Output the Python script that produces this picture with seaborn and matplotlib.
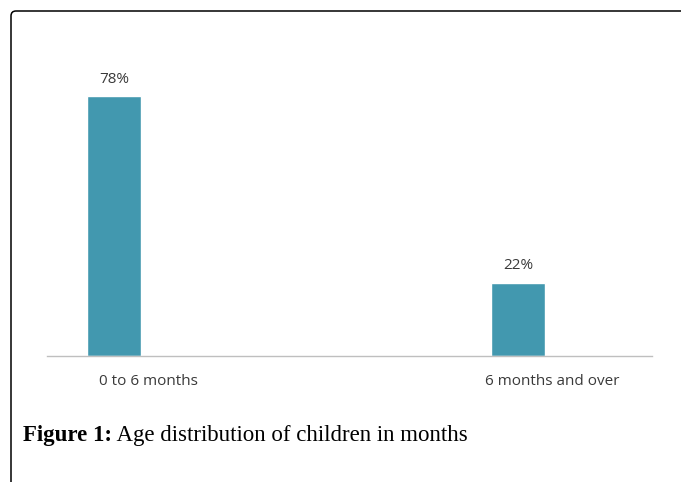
import matplotlib
matplotlib.use("Agg")
import matplotlib.pyplot as plt
import matplotlib.transforms as mtransforms
from matplotlib.patches import FancyBboxPatch
import seaborn as sns
import pandas as pd

categories = ["0 to 6 months", "6 months and over"]
percentages = [78, 22]
caption_bold = "Figure 1:"
caption_text = " Age distribution of children in months"

sns.set_theme(style="white")
plt.rcParams["font.family"] = ["Open Sans", "DejaVu Sans"]

df = pd.DataFrame({"age": categories, "pct": percentages})

fig = plt.figure(figsize=(6.81, 4.82), dpi=100)
ax = fig.add_axes([47 / 681, 126 / 482, 605 / 681, 333 / 482])

sns.barplot(data=df, x="age", y="pct", color="#4298AF", saturation=1,
            width=0.133, ax=ax)

ax.set_xlim(-0.166, 1.332)
ax.set_ylim(0, 100)
ax.set_xlabel("")
ax.set_ylabel("")
ax.set_yticks([])
for side in ["top", "left", "right"]:
    ax.spines[side].set_visible(False)
ax.spines["bottom"].set_color("#bfbfbf")
ax.spines["bottom"].set_linewidth(1.0)
ax.tick_params(axis="x", length=0, pad=13, labelsize=11, labelcolor="#3a3a3a")

# category labels sit a little to the right of their bars
shift = mtransforms.ScaledTranslation(0.34, 0, fig.dpi_scale_trans)
for lab in ax.get_xticklabels():
    lab.set_transform(lab.get_transform() + shift)

ax.bar_label(ax.containers[0], labels=[f"{v}%" for v in percentages],
             padding=7, fontsize=11, color="#3a3a3a")

# rounded frame around the figure
frame = FancyBboxPatch((11, -20), 700, 482 - 11 + 20,
                       boxstyle="round,pad=0,rounding_size=5",
                       transform=None, fill=False, edgecolor="black",
                       linewidth=1.1, clip_on=False)
fig.patches.append(frame)

serif = ["Liberation Serif", "DejaVu Serif"]
t1 = fig.text(23 / 681, 1 - 441 / 482, caption_bold, fontsize=16.5,
              fontweight="bold", family=serif, color="black", va="baseline")
fig.canvas.draw()
bb = t1.get_window_extent()
fig.text(bb.x1 / 681, 1 - 441 / 482, caption_text, fontsize=16.5,
         family=serif, color="black", va="baseline")

fig.savefig("out.png", dpi=100)
